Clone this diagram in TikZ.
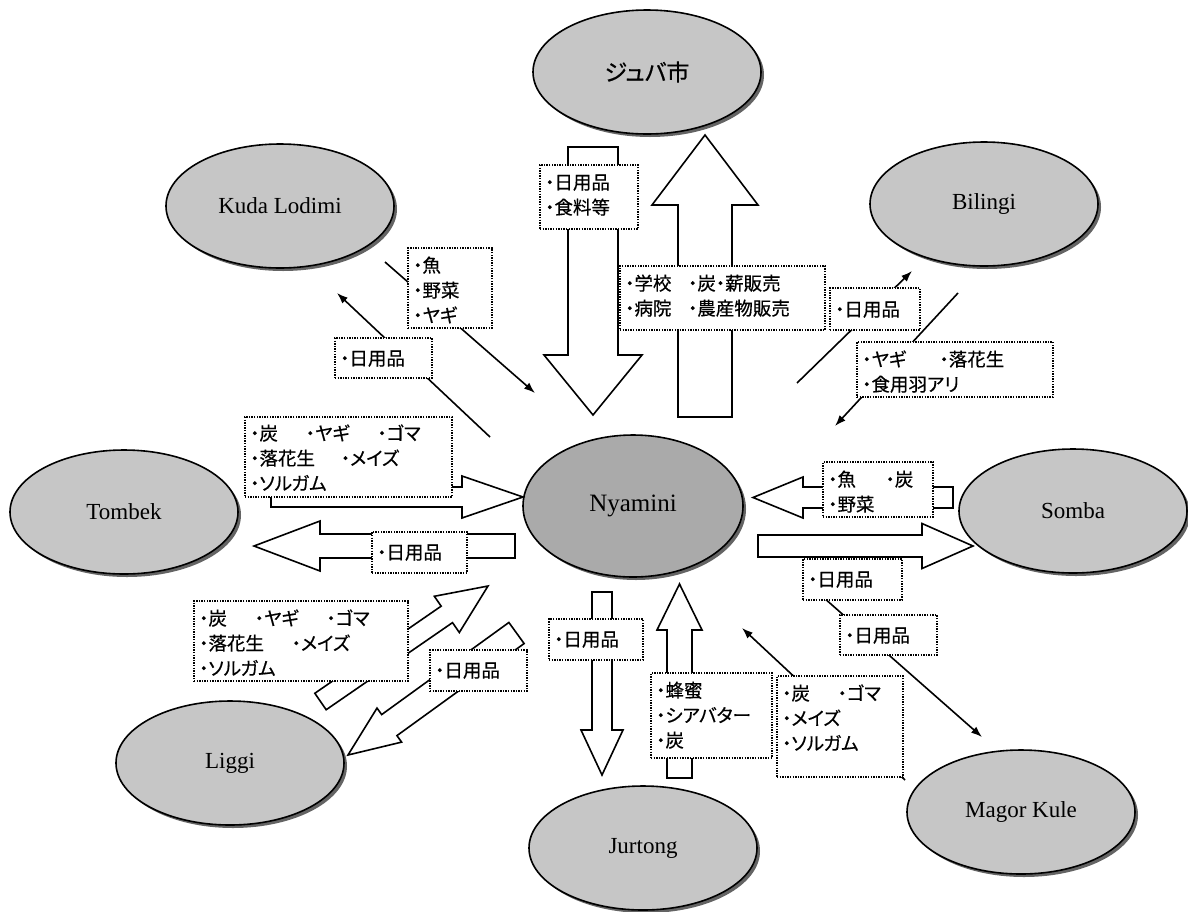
\documentclass[tikz,border=0pt]{standalone}
\usepackage{fontspec}
\setmainfont{Liberation Serif}
\newfontfamily\jpfont[RawFeature=+palt,FakeBold=0.5]{Noto Sans CJK JP}
\usetikzlibrary{calc,arrows.meta,shapes.geometric,shadows}

\definecolor{townfill}{RGB}{198,198,198}
\definecolor{hubfill}{RGB}{170,170,170}
\definecolor{rimshade}{RGB}{100,100,100}

\tikzset{
  town/.style={ellipse, draw=black, line width=1.6pt, fill=townfill, inner sep=0pt,
    general shadow={shadow xshift=3pt, shadow yshift=-3pt, fill=rimshade},
    minimum width=228pt, minimum height=124pt, font=\fontsize{23}{26}\selectfont},
  hub/.style={town, fill=hubfill, minimum width=220pt, minimum height=142pt,
    font=\fontsize{25}{28}\selectfont},
  hollow/.style={draw=black, fill=white, line width=1.6pt, line join=miter},
  flow/.style={line width=1.6pt, -{Latex[length=11pt,width=8pt]}},
  tagframe/.style={draw=black, line width=1.4pt, dash pattern=on 1.4pt off 1.2pt,
    fill=white, anchor=north west, inner sep=0pt, outer sep=0pt},
  tagtext/.style={anchor=north west, inner sep=0pt, align=left,
    font=\jpfont\fontsize{18.5}{25}\selectfont}
}

% hollow block arrow from #1 to #2: shaft half width #3, head half width #4, head length #5
\newcommand\blockarrow[5]{%
  \path let \p1=(#1), \p2=(#2) in \pgfextra{%
    \pgfmathsetmacro\tmpang{atan2((\y2)-(\y1),(\x2)-(\x1))}%
    \pgfmathsetmacro\tmplen{veclen((\x2)-(\x1),(\y2)-(\y1))}%
    \xdef\baAng{\tmpang}\xdef\baLen{\tmplen}%
    \xdef\baX{\x1}\xdef\baY{\y1}};
  \draw[hollow, shift={(\baX,\baY)}, rotate=\baAng]
    (0pt,#3pt) -- ({\baLen pt-#5pt},#3pt) -- ({\baLen pt-#5pt},#4pt)
    -- (\baLen pt,0pt) -- ({\baLen pt-#5pt},-#4pt) -- ({\baLen pt-#5pt},-#3pt)
    -- (0pt,-#3pt) -- cycle;}

% dotted label box: name, left, top, width, height, text offset, text
\newcommand\tagbox[7]{%
  \node[tagframe, minimum width=#4pt, minimum height=#5pt] (#1) at (#2,#3) {};
  \node[tagtext] (#1-text) at ([shift={(5pt,-#6pt)}]#1.north west)
    {\rule{0pt}{17pt}#7};}

\begin{document}
\begin{tikzpicture}[x=1pt,y=-1pt]
\useasboundingbox (0,0) rectangle (1188,911);
\fill[white] (0,0) rectangle (1188,911);

% settlements
\node[town] (juba)    at (647,72)   {\jpfont ジュバ市};
\node[town] (kuda)    at (280,206)  {Kuda Lodimi};
\node[town] (bilingi) at (984,204)  {Bilingi};
\node[town] (tombek)  at (124,512)  {Tombek};
\node[hub]  (nyamini) at (633,506)  {Nyamini};
\node[town] (somba)   at (1073,511) {Somba};
\node[town] (liggi)   at (230,763)  {Liggi};
\node[town] (jurtong) at (643,848)  {Jurtong};
\node[town] (magor)   at (1021,812) {Magor Kule};

% block arrows
\coordinate (jd0) at (593,147);   \coordinate (jd1) at (593,415);
\blockarrow{jd0}{jd1}{25}{49}{60}
\coordinate (ju0) at (705,417);   \coordinate (ju1) at (705,135);
\blockarrow{ju0}{ju1}{27}{53}{70}
\coordinate (te0) at (271,497);   \coordinate (te1) at (523,497);
\blockarrow{te0}{te1}{10}{21}{61}
\coordinate (tw0) at (515,546);   \coordinate (tw1) at (254,546);
\blockarrow{tw0}{tw1}{12}{25}{66}
\coordinate (sw0) at (953,497.5); \coordinate (sw1) at (753,497.5);
\blockarrow{sw0}{sw1}{10.5}{20.5}{50}
\coordinate (se0) at (758,546);   \coordinate (se1) at (973,546);
\blockarrow{se0}{se1}{11}{22.5}{51}
\coordinate (jn0) at (602,592);   \coordinate (jn1) at (602,775);
\blockarrow{jn0}{jn1}{10}{21}{45}
\coordinate (jp0) at (679.5,778); \coordinate (jp1) at (679.5,584);
\blockarrow{jp0}{jp1}{12.5}{22.5}{46}
\coordinate (lu0) at (320.5,701.5); \coordinate (lu1) at (488,586);
\blockarrow{lu0}{lu1}{10}{22}{50}
\coordinate (ld0) at (516.5,633); \coordinate (ld1) at (348,755);
\blockarrow{ld0}{ld1}{13}{21}{51}

% line arrows
\coordinate (ka0) at (385,262); \coordinate (ka1) at (535,393);
\draw[flow] (ka0) -- (ka1);
\coordinate (kb0) at (490,437); \coordinate (kb1) at (337,293);
\draw[flow] (kb0) -- (kb1);
\coordinate (ba0) at (797,383); \coordinate (ba1) at (912,271);
\draw[flow] (ba0) -- (ba1);
\coordinate (bb0) at (958,293); \coordinate (bb1) at (835,426);
\draw[flow] (bb0) -- (bb1);
\coordinate (ma0) at (815,590); \coordinate (ma1) at (982,737);
\draw[flow] (ma0) -- (ma1);
\coordinate (mb0) at (905,780); \coordinate (mb1) at (742,628);
\draw[flow] (mb0) -- (mb1);

% goods labels
\tagbox{jubaIn}{540}{165}{98}{64}{7}{・日用品\\・食料等}
\tagbox{jubaOut}{620}{266}{205}{64}{7}{・学校\hspace{0.9em}・炭・薪販売\\・病院\hspace{0.9em}・農産物販売}
\tagbox{kudaOut}{408}{248}{84}{80}{7}{・魚\\・野菜\\・ヤギ}
\tagbox{kudaIn}{335}{338}{97}{40}{10}{・日用品}
\tagbox{bilingiIn}{830}{288}{90}{42}{11}{・日用品}
\tagbox{bilingiOut}{857}{342}{196}{55}{7}{・ヤギ\hspace{1.8em}・落花生\\・食用羽アリ}
\tagbox{tombekOut}{245}{417}{207}{80}{6}{・炭\hspace{1.5em}・ヤギ\hspace{1.5em}・ゴマ\\・落花生\hspace{1.4em}・メイズ\\・ソルガム}
\tagbox{tombekIn}{372}{532}{95}{41}{10}{・日用品}
\tagbox{sombaOut}{823}{462}{110}{55}{7}{・魚\hspace{1.6em}・炭\\・野菜}
\tagbox{sombaIn}{803}{559}{99}{41}{10}{・日用品}
\tagbox{magorIn}{840}{615}{97}{40}{10}{・日用品}
\tagbox{liggiOut}{194}{601}{214}{80}{7}{・炭\hspace{1.5em}・ヤギ\hspace{1.5em}・ゴマ\\・落花生\hspace{1.5em}・メイズ\\・ソルガム}
\tagbox{liggiIn}{430}{650}{97}{41}{10}{・日用品}
\tagbox{jurtongIn}{549}{619}{94}{41}{10}{・日用品}
\tagbox{jurtongOut}{651}{673}{121}{85}{7}{・蜂蜜\\・シアバター\\・炭}
\tagbox{magorOut}{777}{676}{126}{101}{7}{・炭\hspace{1.5em}・ゴマ\\・メイズ\\・ソルガム}
\end{tikzpicture}
\end{document}
